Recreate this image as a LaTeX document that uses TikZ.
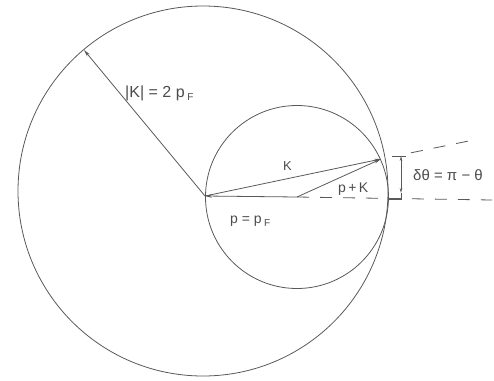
\documentclass[tikz,border=0pt]{standalone}
\usepackage{fontspec}
\setmainfont{Liberation Sans}
\usetikzlibrary{arrows.meta}
\newcommand{\subF}{\raisebox{-0.45ex}{\fontsize{10}{10}\selectfont F}}
\tikzset{
  ln/.style={draw=black!65, line width=0.8pt},
  vec/.style={ln, -{Stealth[length=7pt,width=3.4pt]}},
  dim/.style={ln, {Stealth[length=5pt,width=2.6pt]}-{Stealth[length=5pt,width=2.6pt]}},
  dsh/.style={ln, dash pattern=on 12pt off 11pt},
  lbl/.style={inner sep=0pt, text=black!70, font=\fontsize{15}{15}\selectfont},
}
\begin{document}
\begin{tikzpicture}[x=1pt,y=-1pt]
\useasboundingbox (0,0) rectangle (494,380);
% points
\coordinate (B) at (203,191);   % centre of big circle
\coordinate (O) at (205,196);   % tip of p, start of K
\coordinate (C) at (297,197);   % centre of small circle
\coordinate (P) at (381,159);   % p+K
\coordinate (R) at (84,50);     % on big circle
\coordinate (U1) at (411,152.8);
\coordinate (U2) at (475,139.7);
\coordinate (L2) at (492,200);
\coordinate (Bk) at (388,199);
\coordinate (Db) at (401,193);
\coordinate (Dt) at (401,156);
\coordinate (T1) at (392,156);
\coordinate (T2) at (406,156);
% circles
\draw[ln] (B) circle[radius=185pt];
\draw[ln] (C) circle[radius=91.5pt];
% vectors
\draw[vec] (O) -- (R);
\draw[vec] (C) -- (O);
\draw[vec] (O) -- (P);
\draw[vec] (C) -- (P);
% dashed lines
\draw[dsh] (C) -- (L2);
\draw[dsh] (U1) -- (U2);
% delta theta bracket
\draw[ln] (Bk) -| (Db);
\draw[ln] (T1) -- (T2);
\draw[dim] (Db) -- (Dt);
% labels
\node[lbl, anchor=base west, font=\fontsize{16}{16}\selectfont] (lr) at (125,97) {|K| = 2 p\,\subF};
\node[lbl, anchor=base west, font=\fontsize{13}{13}\selectfont] (lk) at (283,170) {K};
\node[lbl, anchor=base west, font=\fontsize{14}{14}\selectfont] (lpk) at (338,192) {p\,+\,K};
\node[lbl, anchor=base west, font=\fontsize{14}{14}\selectfont] (lp) at (230,223) {p = p\,\subF};
\node[lbl, anchor=base west, font=\fontsize{15}{15}\selectfont] (lt) at (413,180) {δθ = π − θ};
\end{tikzpicture}
\end{document}
